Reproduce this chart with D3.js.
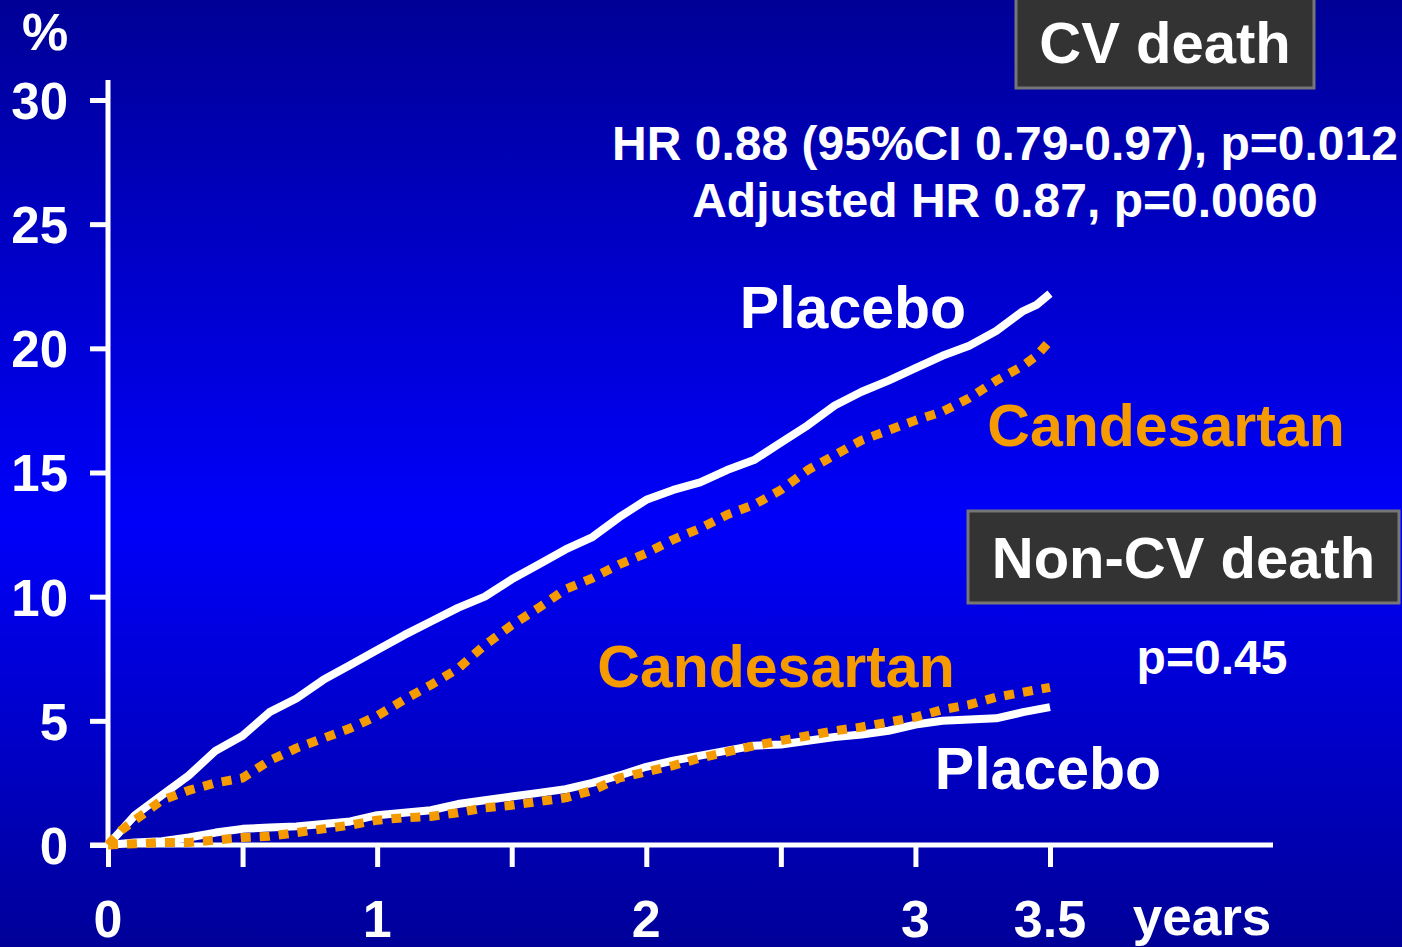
<!DOCTYPE html>
<html>
<head>
<meta charset="utf-8">
<script src="https://cdn.jsdelivr.net/npm/d3@7"></script>
<style>
  body { margin: 0; background: #0000a0; }
  svg { display: block; font-family: "Liberation Sans", Arial, sans-serif; font-weight: bold; }
</style>
</head>
<body>
<svg id="canvas"></svg>
<script>
// years of follow-up
let years = [0, 0.05, 0.1, 0.2, 0.3, 0.4, 0.5, 0.6, 0.7, 0.8, 0.9, 1.0, 1.1, 1.2, 1.3, 1.4, 1.5, 1.6, 1.7, 1.8, 1.9,
  2.0, 2.1, 2.2, 2.3, 2.4, 2.5, 2.6, 2.7, 2.8, 2.9, 3.0, 3.1, 3.2, 3.3, 3.4, 3.45, 3.5];

let cvPlacebo = [0, 0.6, 1.2, 2.0, 2.8, 3.8, 4.4, 5.35, 5.9, 6.65, 7.25, 7.85, 8.45, 9.0, 9.55, 10.0, 10.7, 11.3, 11.9, 12.4, 13.2,
  13.9, 14.3, 14.6, 15.1, 15.5, 16.2, 16.9, 17.7, 18.25, 18.7, 19.2, 19.7, 20.1, 20.7, 21.5, 21.75, 22.2];
let cvCandesartan = [0, 0.6, 1.0, 1.8, 2.2, 2.5, 2.7, 3.4, 3.9, 4.3, 4.7, 5.2, 5.85, 6.45, 7.1, 8.05, 8.85, 9.55, 10.3, 10.75, 11.3,
  11.75, 12.3, 12.75, 13.3, 13.7, 14.3, 15.1, 15.7, 16.3, 16.7, 17.1, 17.45, 18.0, 18.7, 19.3, 19.7, 20.3];
let nonCvPlacebo = [0, 0.05, 0.1, 0.15, 0.3, 0.5, 0.65, 0.7, 0.75, 0.85, 0.95, 1.2, 1.3, 1.4, 1.65, 1.8, 1.95, 2.1, 2.25, 2.5, 2.8,
  3.15, 3.4, 3.6, 3.8, 4.0, 4.05, 4.2, 4.35, 4.45, 4.6, 4.85, 5.0, 5.05, 5.1, 5.35, 5.45, 5.55];
let nonCvCandesartan = [0, 0.03, 0.05, 0.1, 0.1, 0.2, 0.3, 0.35, 0.5, 0.65, 0.8, 1.0, 1.1, 1.15, 1.3, 1.5, 1.6, 1.75, 1.9, 2.2, 2.7,
  2.95, 3.2, 3.5, 3.75, 4.0, 4.2, 4.4, 4.6, 4.75, 4.95, 5.15, 5.45, 5.65, 5.95, 6.15, 6.25, 6.35];

let yTicks = [0, 5, 10, 15, 20, 25, 30];
let xTicks = [0, 0.5, 1, 1.5, 2, 2.5, 3, 3.5];
let xLabels = [0, 1, 2, 3, 3.5];

let w = 1402;
let h = 947;
let orange = '#f59b00';

let canvas = d3.select('#canvas').attr('width', w).attr('height', h);

// blue background, lighter in the middle
let grad = canvas.append('defs').append('linearGradient')
  .attr('id', 'bg').attr('x1', 0).attr('y1', 0).attr('x2', 0).attr('y2', 1);
grad.append('stop').attr('offset', '0%').attr('stop-color', '#000096');
grad.append('stop').attr('offset', '55%').attr('stop-color', '#0000fa');
grad.append('stop').attr('offset', '100%').attr('stop-color', '#000098');
canvas.append('rect').attr('width', w).attr('height', h).attr('fill', 'url(#bg)');

let xScale = d3.scaleLinear().domain([0, 3.5]).range([108, 1050]);
let yScale = d3.scaleLinear().domain([0, 30]).range([845, 100]);

// axes
let yAxis = canvas.append('g')
  .attr('transform', 'translate(108,0)')
  .call(d3.axisLeft(yScale).tickValues(yTicks).tickSize(18).tickPadding(22).tickFormat(d3.format('d')));
yAxis.select('.domain').attr('d', 'M0,80V845').attr('stroke', 'white').attr('stroke-width', 5);
yAxis.selectAll('.tick line').attr('stroke', 'white').attr('stroke-width', 5);
yAxis.selectAll('.tick text').attr('fill', 'white').attr('font-size', 51).attr('font-weight', 'bold')
  .attr('font-family', '"Liberation Sans", Arial, sans-serif').attr('dy', '0.36em');

let xAxis = canvas.append('g')
  .attr('transform', 'translate(0,845)')
  .call(d3.axisBottom(xScale).tickValues(xTicks).tickSize(22).tickFormat(''));
xAxis.select('.domain').attr('d', 'M90,0H1273').attr('stroke', 'white').attr('stroke-width', 5);
xAxis.selectAll('.tick line').attr('stroke', 'white').attr('stroke-width', 5);

canvas.append('g').selectAll('text')
  .data(xLabels)
  .enter()
  .append('text')
  .attr('x', d => xScale(d))
  .attr('y', 937)
  .attr('text-anchor', 'middle')
  .attr('fill', 'white')
  .attr('font-size', 52)
  .text(d => d);

canvas.append('text').attr('x', 1202).attr('y', 935).attr('text-anchor', 'middle')
  .attr('fill', 'white').attr('font-size', 53).text('years');
canvas.append('text').attr('x', 45).attr('y', 50).attr('text-anchor', 'middle')
  .attr('fill', 'white').attr('font-size', 52).text('%');

// curves
let line = d3.line()
  .x((d, i) => xScale(years[i]))
  .y(d => yScale(d));

const drawCurve = (values, color, width, dash) => {
  canvas.append('path')
    .datum(values)
    .attr('d', line)
    .attr('fill', 'none')
    .attr('stroke', color)
    .attr('stroke-width', width)
    .attr('stroke-linejoin', 'round')
    .attr('stroke-dasharray', dash);
};

drawCurve(nonCvPlacebo, 'white', 8, null);
drawCurve(nonCvCandesartan, orange, 9, '10,9');
drawCurve(cvPlacebo, 'white', 8, null);
drawCurve(cvCandesartan, orange, 9, '10,9');

// labelled boxes
const drawBox = (x, y, bw, bh, label, size) => {
  canvas.append('rect')
    .attr('x', x).attr('y', y).attr('width', bw).attr('height', bh)
    .attr('fill', '#333333').attr('stroke', '#767676').attr('stroke-width', 3);
  canvas.append('text')
    .attr('x', x + bw / 2).attr('y', y + bh / 2 + size * 0.36)
    .attr('text-anchor', 'middle').attr('fill', 'white').attr('font-size', size)
    .text(label);
};

drawBox(1016, -4, 298, 92, 'CV death', 58);
drawBox(968, 511, 431, 92, 'Non-CV death', 58);

const label = (x, y, txt, color, size) => {
  canvas.append('text').attr('x', x).attr('y', y).attr('text-anchor', 'middle')
    .attr('fill', color).attr('font-size', size).text(txt);
};

label(1005, 160, 'HR 0.88 (95%CI 0.79-0.97), p=0.012', 'white', 48);
label(1005, 217, 'Adjusted HR 0.87, p=0.0060', 'white', 48);
label(853, 328, 'Placebo', 'white', 59);
label(1166, 446, 'Candesartan', orange, 59);
label(1212, 674, 'p=0.45', 'white', 48);
label(776, 687, 'Candesartan', orange, 59);
label(1048, 789, 'Placebo', 'white', 59);
</script>
</body>
</html>
